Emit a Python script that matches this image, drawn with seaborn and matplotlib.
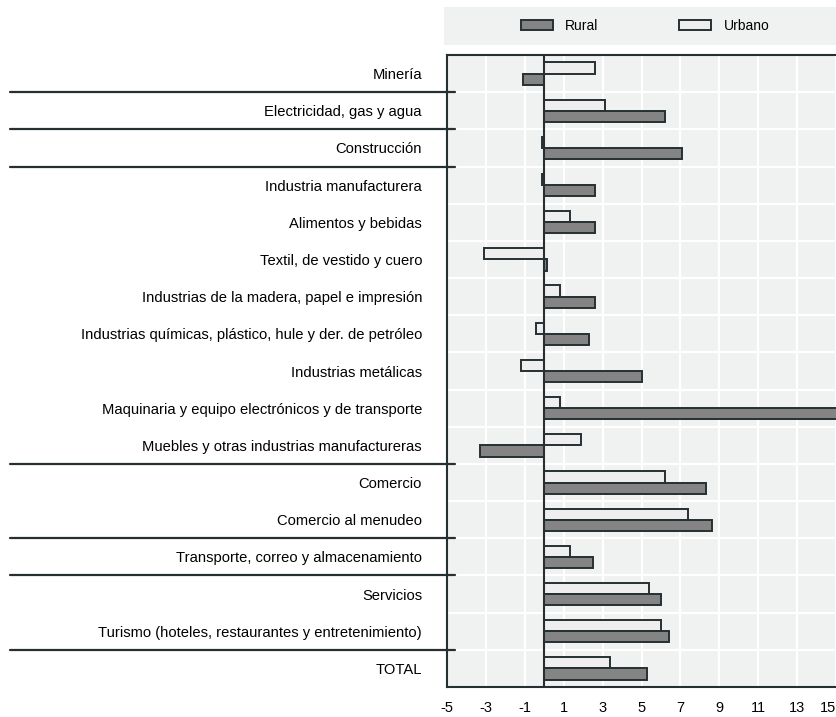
import matplotlib
matplotlib.use('Agg')
import matplotlib.pyplot as plt
import matplotlib.transforms as mtransforms
from matplotlib.patches import Patch, Rectangle
import pandas as pd
import seaborn as sns

# Sectores (arriba -> abajo) y variacion por zona
sectores = [
    'Minería',
    'Electricidad, gas y agua',
    'Construcción',
    'Industria manufacturera',
    'Alimentos y bebidas',
    'Textil, de vestido y cuero',
    'Industrias de la madera, papel e impresión',
    'Industrias químicas, plástico, hule y der. de petróleo',
    'Industrias metálicas',
    'Maquinaria y equipo electrónicos y de transporte',
    'Muebles y otras industrias manufactureras',
    'Comercio',
    'Comercio al menudeo',
    'Transporte, correo y almacenamiento',
    'Servicios',
    'Turismo (hoteles, restaurantes y entretenimiento)',
    'TOTAL',
]
urbano = [2.6, 3.1, -0.1, -0.1, 1.3, -3.1, 0.8, -0.4, -1.2, 0.8, 1.9,
          6.2, 7.4, 1.3, 5.4, 6.0, 3.4]
rural = [-1.1, 6.2, 7.1, 2.6, 2.6, 0.15, 2.6, 2.3, 5.0, 16.0, -3.3,
         8.3, 8.6, 2.5, 6.0, 6.4, 5.3]
zonas = ['Urbano', 'Rural']
xticks = list(range(-5, 16, 2))
# fronteras entre grupos de sectores (lineas separadoras a la izquierda)
separadores = [0.5, 1.5, 2.5, 10.5, 12.5, 13.5, 15.5]

EDGE = '#263033'
MID = '#848484'
LIGHT = '#eeeeee'
BG = '#f0f1f1'

n = len(sectores)
df = pd.DataFrame({
    'sector': sectores * 2,
    'zona': ['Urbano'] * n + ['Rural'] * n,
    'valor': urbano + rural,
})

sns.set_style('white')
plt.rcParams['font.family'] = ['Liberation Sans', 'DejaVu Sans']
plt.rcParams['text.color'] = 'black'
plt.rcParams['xtick.color'] = 'black'
plt.rcParams['ytick.color'] = 'black'

fig = plt.figure(figsize=(8.36, 7.17), dpi=100)
ax = fig.add_axes([447 / 836, 30 / 717, 389 / 836, 632 / 717])
ax.set_facecolor(BG)

sns.barplot(data=df, y='sector', x='valor', hue='zona', hue_order=zonas,
            order=sectores, orient='h', width=0.6, saturation=1,
            palette={'Urbano': LIGHT, 'Rural': MID}, edgecolor=EDGE,
            linewidth=1.4, errorbar=None, legend=False, ax=ax)

ax.set_xlim(-5, 15)
ax.set_ylim(n - 0.5, -0.5)
ax.set_xlabel('')
ax.set_ylabel('')

# eje y: marcas en las fronteras, etiquetas en los centros
ax.set_yticks([i + 0.5 for i in range(n - 1)])
ax.set_yticklabels([])
ax.set_yticks(range(n), minor=True)
ax.set_yticklabels(sectores, minor=True, fontsize=10.6)
ax.tick_params(axis='y', which='major', direction='inout', length=14,
               width=1.5, color=EDGE)
ax.tick_params(axis='y', which='minor', length=0, pad=18)

ax.set_xticks(xticks)
ax.set_xticklabels([str(t) for t in xticks], fontsize=10.5)
ax.get_xticklabels()[-1].set_horizontalalignment('right')
ax.tick_params(axis='x', direction='in', length=7, width=1.5, color=EDGE, pad=10)

ax.grid(True, which='major', color='white', lw=1.6)
ax.set_axisbelow(True)
ax.axvline(0, color=EDGE, lw=1.5, zorder=4)

for side in ['left', 'top', 'bottom']:
    ax.spines[side].set_color(EDGE)
    ax.spines[side].set_linewidth(1.5)
ax.spines['right'].set_visible(False)

trans = mtransforms.blended_transform_factory(ax.transAxes, ax.transData)
for b in separadores:
    ax.plot([-437 / 389, 8 / 389], [b, b], transform=trans, color=EDGE,
            lw=1.6, clip_on=False, zorder=5)

# leyenda sobre banda gris
fig.patches.append(Rectangle((444 / 836, 1 - 45 / 717), 392 / 836, 38 / 717,
                             transform=fig.transFigure, facecolor=BG,
                             edgecolor='none', zorder=0))
handles = [Patch(facecolor=MID, edgecolor=EDGE, lw=1.4, label='Rural'),
           Patch(facecolor=LIGHT, edgecolor=EDGE, lw=1.4, label='Urbano')]
fig.legend(handles=handles, loc='center', bbox_to_anchor=(645 / 836, 1 - 26 / 717),
           ncol=2, frameon=False, fontsize=10, handlelength=2.3,
           handleheight=0.65, handletextpad=0.9, columnspacing=5.8)

fig.savefig('out.png', dpi=100)
